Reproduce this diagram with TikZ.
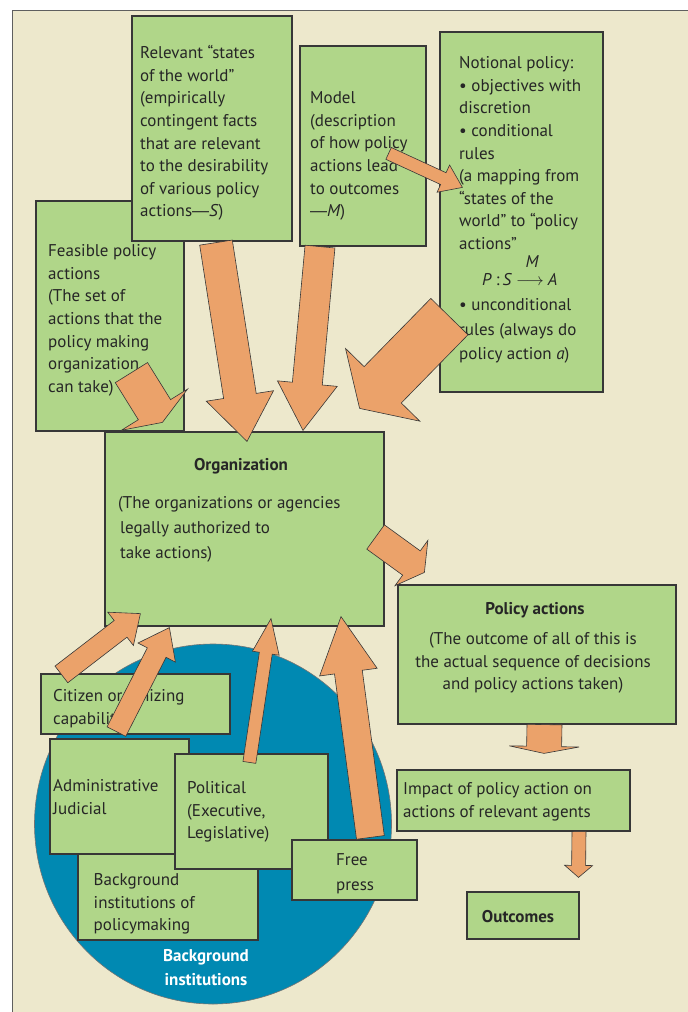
\documentclass[tikz,border=0pt]{standalone}
\usepackage{fontspec}
\setmainfont{PT Sans}
\newfontfamily\dashfont{Liberation Sans}
\usetikzlibrary{calc,fit}
\definecolor{bgc}{RGB}{237,232,204}
\definecolor{boxg}{RGB}{176,214,137}
\definecolor{edgec}{RGB}{55,55,55}
\definecolor{arrf}{RGB}{235,162,106}
\definecolor{blu}{RGB}{0,137,178}
\definecolor{ink}{RGB}{38,38,38}
\newcommand{\mainsz}{\fontsize{17}{22.6}\selectfont}
\newcommand{\widesz}{\fontsize{17}{24.5}\selectfont}
\newcommand{\emd}{{\dashfont —}}
\newcommand{\blockarr}[5]{%
  \coordinate (bT) at (#1);
  \coordinate (bP) at (#2);
  \coordinate (bH) at ($(bP)!#5!(bT)$);
  \filldraw[arrowsty] ($(bT)!#3!90:(bP)$) -- ($(bH)!#3!90:(bP)$) -- ($(bH)!#4!90:(bP)$) -- (bP)
     -- ($(bH)!#4!-90:(bP)$) -- ($(bH)!#3!-90:(bP)$) -- ($(bT)!#3!-90:(bP)$) -- cycle;
}
\begin{document}
\begin{tikzpicture}[x=1pt,y=-1pt,
  box/.style={draw=edgec, fill=boxg, line width=1.2pt, inner sep=0pt, rectangle},
  tx/.style={anchor=north west, inner sep=0pt, align=left, text=ink, font=\mainsz},
  txw/.style={tx, font=\widesz},
  ttl/.style={anchor=base, inner sep=0pt, text=ink, font=\mainsz\bfseries},
  arrowsty/.style={fill=arrf, draw=edgec, line width=0.6pt, line join=miter}]
\useasboundingbox (0,0) rectangle (688,1012);
% background and frame
\fill[bgc] (12,10) rectangle (690,1014);
\draw[edgec!80, line width=1pt] (12,1014) -- (12,10) -- (690,10);
% ellipse of background institutions
\draw[fill=blu, draw=edgec!70, line width=0.6pt] (213,824) ellipse [x radius=178.5pt, y radius=180pt];
% boxes
\node[box, fit={(36,201) (184,431)}] (feas) {};
\node[box, fit={(132,16) (292,241)}] (rel) {};
\node[box, fit={(300,46) (426,246)}] (model) {};
\node[box, fit={(440,32) (603,392)}] (notional) {};
\node[box, fit={(105,432) (384,626)}] (org) {};
\node[box, fit={(398,585) (676,724)}] (pol) {};
\node[box, fit={(41,674) (230,734)}] (cit) {};
\node[box, fit={(78,845) (258,940)}] (bgbox) {};
\node[box, fit={(50,739) (189,854)}] (admin) {};
\node[box, fit={(175,754) (328,869)}] (poli) {};
\node[box, fit={(292,840) (417,900)}] (free) {};
\node[box, fit={(397,770) (630,831)}] (impact) {};
\node[box, fit={(467,892) (579,939)}] (outc) {};
% texts
\node[tx] (relT) at (140,42.7) {\strut Relevant “states\\of the world”\\(empirically\\contingent facts\\that are relevant\\to the desirability\\of various policy\\actions\emd\textit{S})};
\node[tx] (modelT) at (310,87.7) {\strut Model\\(description\\of how policy\\actions lead\\to outcomes\\\emd\textit{M})};
\node[tx] (notT) at (459,52.7) {\strut Notional policy:\\• objectives with\\discretion\\• conditional\\rules\\(a mapping from\\“states of the\\world” to “policy\\actions”};
\node[anchor=base west, inner sep=0pt, text=ink, font=\mainsz] (mapT) at (482,285) {\textit{P}\kern4pt:\kern3pt\textit{S}\kern4pt$\longrightarrow$\kern4pt\textit{A}};
\node[anchor=base, inner sep=0pt, text=ink, font=\mainsz\itshape] (mapM) at (532,267) {M};
\node[txw] (notT2) at (459,293.2) {\strut • unconditional\\rules (always do\\policy action \textit{a})};
\node[tx] (feasT) at (48,240.7) {\strut Feasible policy\\actions\\(The set of\\actions that the\\policy making\\organization\\can take)};
\node[ttl] (orgH) at (241,470) {Organization};
\node[tx, font=\fontsize{17}{25}\selectfont] (orgT) at (118,490.5) {\strut(The organizations or agencies\\\hspace*{2pt}legally authorized to\\\hspace*{2pt}take actions)};
\node[ttl] (polH) at (535,614) {Policy actions};
\node[tx, anchor=north, align=center] (polT) at (533,628.7) {\strut(The outcome of all of this is\\the actual sequence of decisions\\and policy actions taken)};
\node[tx] (citT) at (53,685.7) {\strut Citizen organizing\\capability};
\node[tx] (adminT) at (53,775.7) {\strut Administrative\\Judicial};
\node[tx] (poliT) at (187,777.7) {\strut Political\\(Executive,\\Legislative)};
\node[txw] (freeT) at (336,848.5) {\strut Free\\press};
\node[tx] (bgboxT) at (93.5,869.7) {\strut Background\\institutions of\\policymaking};
\node[tx] (impactT) at (403,778.7) {\strut Impact of policy action on\\actions of relevant agents};
\node[ttl] (outcT) at (518,922) {Outcomes};
\node[txw, anchor=north, align=center, text=white, font=\widesz\bfseries] (bgiT) at (206,943.7) {\strut Background\\institutions};
% arrows
\blockarr{$(rel.south)+(4,1)$}{$(org.north)+(2.5,10)$}{16.5pt}{34pt}{46pt}
\blockarr{$(model.south)+(-43,0)$}{$(org.north)+(58.5,-1)$}{15pt}{30pt}{47pt}
\blockarr{$(notional.south west)+(10,-76)$}{$(org.north east)+(-25,-23)$}{26pt}{52pt}{33pt}
\blockarr{$(feas.south west)+(96,-59)$}{$(org.north west)+(58,-9)$}{19pt}{39pt}{15pt}
\blockarr{$(org.east)+(-9,8)$}{$(pol.north west)+(27,-12)$}{15pt}{28pt}{16pt}
\blockarr{$(cit.north west)+(21,1)$}{$(org.south west)+(36,-13)$}{10.5pt}{21pt}{25pt}
\blockarr{$(cit.south west)+(76,-3)$}{$(org.south west)+(65,1)$}{10.5pt}{21pt}{28pt}
\blockarr{$(poli.north west)+(75,9)$}{$(org.south)+(26.5,-8)$}{6.5pt}{13.5pt}{35pt}
\blockarr{$(free.north west)+(79,-2)$}{$(org.south)+(96.5,-10)$}{14pt}{29pt}{56pt}
\blockarr{$(pol.south)+(7.5,0)$}{$(impact.north)+(30.5,-16)$}{17.5pt}{35pt}{7pt}
\blockarr{$(impact.south)+(65.5,0)$}{$(outc.north)+(55.5,-14)$}{7pt}{14pt}{12pt}
\blockarr{$(model.north east)+(-38,108)$}{$(notional.north west)+(23,156)$}{6.5pt}{15pt}{21pt}
\end{tikzpicture}
\end{document}
